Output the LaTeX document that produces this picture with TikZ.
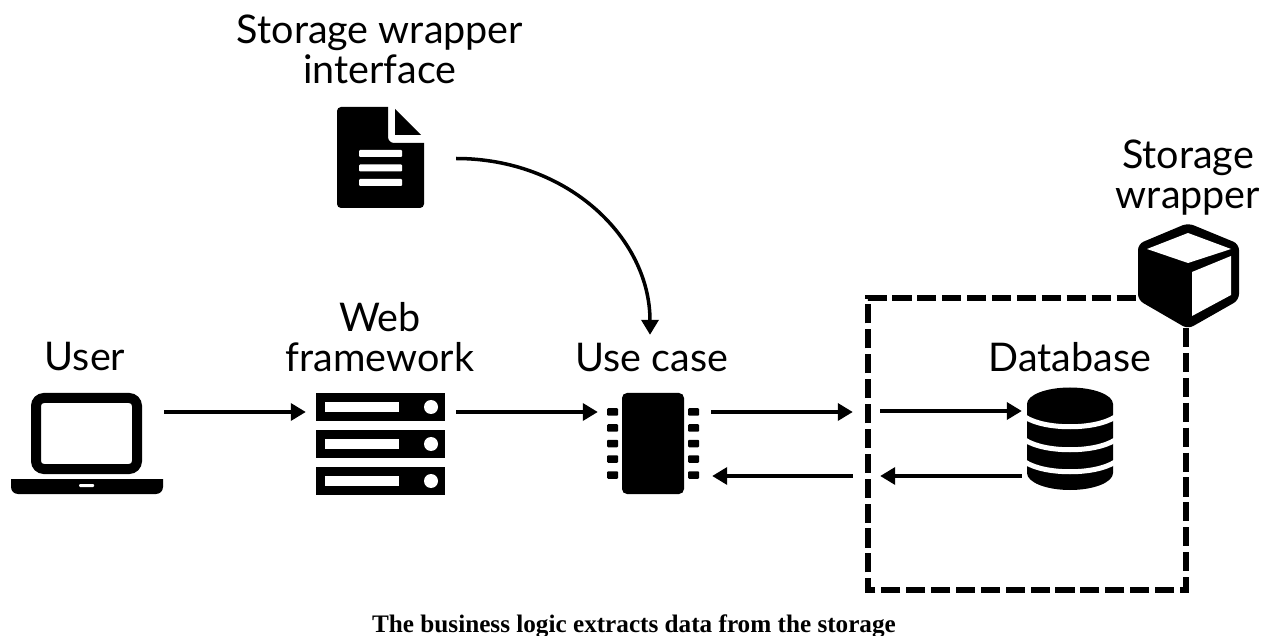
\documentclass[tikz,border=0pt]{standalone}
\usepackage{fontspec}
\setmainfont{Lato}
\newfontfamily\captionfont{Liberation Serif}
\tikzset{
	label/.style={align=center, inner sep=0, font=\fontsize{39.5}{39.5}\selectfont},
	slab/.style={fill=black, inner sep=0, minimum width=129, minimum height=28},
	slot/.style={fill=white, inner sep=0, minimum width=74, minimum height=10},
	led/.style={circle, fill=white, inner sep=0, minimum size=14},
	pin/.style={fill=black, rounded corners=1, inner sep=0, minimum width=11, minimum height=7.5},
	bar/.style={fill=white, rounded corners=1, inner sep=0, minimum width=43, minimum height=7},
	port/.style={inner sep=0, minimum size=0},
	arrow/.style={line width=3.5, -{Triangle[length=15,width=17]}},
}
\usetikzlibrary{arrows.meta}
\begin{document}
\begin{tikzpicture}[x=1pt, y=-1pt]
	\useasboundingbox (0,0) rectangle (1270,636);
	
	% texts
	\node[label] (wrapperinterface) at (380,49.5) {Storage wrapper\\interface};
	\node[label] (wrappertext) at (1188,177.5) {Storage\\wrapper};
	\node[label] (usertext) at (85,357) {User};
	\node[label] (webtext) at (380,337) {Web\\framework};
	\node[label] (usecasetext) at (652,357.5) {Use case};
	\node[label] (databasetext) at (1070,357) {Database};
	\node[inner sep=0, font=\captionfont\bfseries\fontsize{25.2}{30}\selectfont] (caption) at (634,626) {The business logic extracts data from the storage};
	
	% dashed storage wrapper box
	\draw[line width=6, dash pattern=on 19.1 off 5.8, dash phase=19.8] (1186,298) -- (1186,590) -- (868,590) -- (868,298) -- cycle;
	
	% laptop
	\node[draw, line width=10, rounded corners=8, inner sep=0, minimum width=101, minimum height=71] (screen) at (86.5,433.5) {};
	\fill (11,479) -- (163,479) [rounded corners=7] -- (163,494) -- (11,494) [sharp corners] -- cycle;
	\node[fill=white, rounded corners=1, inner sep=0, minimum width=15, minimum height=3] (touchpad) at (86.5,485.5) {};
	
	% document
	\fill (388,107) [rounded corners=6] -- (388,143) [sharp corners] -- (424,143) [rounded corners=4] -- (424,208) -- (337,208) -- (337,107) [sharp corners] -- cycle;
	\fill (395,109) -- (421,135) -- (395,135) -- cycle;
	\node[bar] (bar1) at (380.5,153.5) {};
	\node[bar] (bar2) at (380.5,168) {};
	\node[bar] (bar3) at (380.5,182.5) {};
	
	% servers
	\node[slab] (slab1) at (380.5,407) {};
	\node[slab] (slab2) at (380.5,444) {};
	\node[slab] (slab3) at (380.5,481) {};
	\node[slot] (slot1) at (362,407) {};
	\node[slot] (slot2) at (362,444) {};
	\node[slot] (slot3) at (362,481) {};
	\node[led] (led1) at (431,407) {};
	\node[led] (led2) at (431,444) {};
	\node[led] (led3) at (431,481) {};
	
	% chip
	\node[fill=black, rounded corners=5, inner sep=0, minimum width=62, minimum height=101] (chip) at (653,443.5) {};
	\node[pin] (pinl1) at (612.5,412) {};
	\node[pin] (pinl2) at (612.5,428) {};
	\node[pin] (pinl3) at (612.5,443.5) {};
	\node[pin] (pinl4) at (612.5,459) {};
	\node[pin] (pinl5) at (612.5,475) {};
	\node[pin] (pinr1) at (693.5,412) {};
	\node[pin] (pinr2) at (693.5,428) {};
	\node[pin] (pinr3) at (693.5,443.5) {};
	\node[pin] (pinr4) at (693.5,459) {};
	\node[pin] (pinr5) at (693.5,475) {};
	
	% database
	\fill (1027,404) arc[x radius=43, y radius=16.5, start angle=180, end angle=360] -- (1113,473) arc[x radius=43, y radius=17, start angle=0, end angle=180] -- cycle;
	\fill (1027,404) arc[x radius=43, y radius=16.5, start angle=180, end angle=0] -- cycle;
	\draw[line width=5, white] (1025,417) .. controls (1045,430) and (1095,430) .. (1115,417);
	\draw[line width=5, white] (1025,440) .. controls (1045,453) and (1095,453) .. (1115,440);
	\draw[line width=5, white] (1025,462) .. controls (1045,475) and (1095,475) .. (1115,462);
	
	% cube
	\fill[rounded corners=6] (1188,223) -- (1239,244) -- (1239,300) -- (1188,329) -- (1138,300) -- (1138,244) -- cycle;
	\fill[white] (1147,249) -- (1188,233) -- (1231,249) -- (1188,263) -- cycle;
	\fill[white] (1192,272) -- (1231,256) -- (1231,295) -- (1192,316) -- cycle;
	
	% connectors
	\node[port] (userout) at (164,412) {};
	\node[port] (webin) at (306,412) {};
	\node[port] (webout) at (456,412) {};
	\node[port] (caseinweb) at (598,412) {};
	\node[port] (caseout) at (711,412) {};
	\node[port] (boxin) at (853,412) {};
	\node[port] (boxinner) at (880,411) {};
	\node[port] (dbin) at (1022,411) {};
	\node[port] (dbout) at (1022,476) {};
	\node[port] (boxback) at (880,476) {};
	\node[port] (boxout) at (853,476) {};
	\node[port] (caseback) at (712,476) {};
	\node[port] (docout) at (456,158.5) {};
	\node[port] (casetop) at (650,335) {};
	
	\draw[arrow] (userout) -- (webin);
	\draw[arrow] (webout) -- (caseinweb);
	\draw[arrow] (caseout) -- (boxin);
	\draw[arrow] (boxinner) -- (dbin);
	\draw[arrow] (dbout) -- (boxback);
	\draw[arrow] (boxout) -- (caseback);
	\draw[arrow] (docout) .. controls (568,158.5) and (650,238) .. (casetop);
	
\end{tikzpicture}
\end{document}
